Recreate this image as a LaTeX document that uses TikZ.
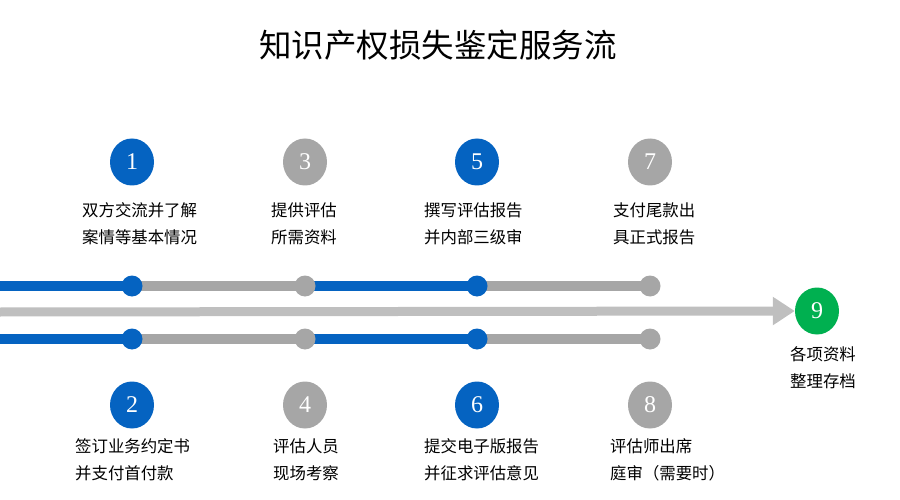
\documentclass[tikz,border=0pt]{standalone}
\usepackage{fontspec}
\setmainfont{Liberation Serif}
\newfontfamily\cjk{Noto Sans CJK SC}
\usetikzlibrary{shapes.geometric,arrows.meta}
\definecolor{flowblue}{RGB}{5,99,193}
\definecolor{flowgray}{RGB}{166,166,166}
\definecolor{flowlight}{RGB}{191,191,191}
\definecolor{flowgreen}{RGB}{0,176,80}

\begin{document}
\begin{tikzpicture}[%
      x=1pt,y=-1pt,
      num/.style={ellipse,minimum width=44pt,minimum height=47pt,inner sep=0pt,
        text=white,font=\fontsize{24}{24}\selectfont},
      lbl/.style={anchor=west,align=left,inner sep=0pt,
        font=\cjk\fontsize{16.4}{27}\selectfont},
      seg/.style={line width=10pt},
      ]
      \useasboundingbox (0,0) rectangle (900,500);
      \node [font=\cjk\fontsize{32.5}{32.5}\selectfont] (title) at (438,45) {知识产权损失鉴定服务流};

      \coordinate (ua) at (0,286);
      \coordinate (u1) at (132,286);
      \coordinate (u2) at (305,286);
      \coordinate (u3) at (477,286);
      \coordinate (u4) at (650,286);
      \coordinate (ma) at (0,312);
      \coordinate (la) at (0,339);
      \coordinate (l1) at (132,339);
      \coordinate (l2) at (305,339);
      \coordinate (l3) at (477,339);
      \coordinate (l4) at (650,339);

      \node [num,fill=flowblue] (c1) at (132,162) {1};
      \node [num,fill=flowgray] (c3) at (305,162) {3};
      \node [num,fill=flowblue] (c5) at (477,162) {5};
      \node [num,fill=flowgray] (c7) at (650,162) {7};
      \node [num,fill=flowblue] (c2) at (132,405) {2};
      \node [num,fill=flowgray] (c4) at (305,405) {4};
      \node [num,fill=flowblue] (c6) at (477,405) {6};
      \node [num,fill=flowgray] (c8) at (650,405) {8};
      \node [num,fill=flowgreen] (c9) at (817,311) {9};

      % upper track
      \draw [seg,flowblue] (ua) -- (u1);
      \draw [seg,flowgray] (u1) -- (u2);
      \draw [seg,flowblue] (u2) -- (u3);
      \draw [seg,flowgray] (u3) -- (u4);
      \fill [flowblue] (u1) circle (10.5pt);
      \fill [flowgray] (u2) circle (10.5pt);
      \fill [flowblue] (u3) circle (10.5pt);
      \fill [flowgray] (u4) circle (10.5pt);

      % lower track
      \draw [seg,flowblue] (la) -- (l1);
      \draw [seg,flowgray] (l1) -- (l2);
      \draw [seg,flowblue] (l2) -- (l3);
      \draw [seg,flowgray] (l3) -- (l4);
      \fill [flowblue] (l1) circle (10.5pt);
      \fill [flowgray] (l2) circle (10.5pt);
      \fill [flowblue] (l3) circle (10.5pt);
      \fill [flowgray] (l4) circle (10.5pt);

      \draw [flowlight,line width=9pt,-{Triangle[length=22pt,width=27pt]}] (ma) -- (c9.west);

      \node [lbl] (t1) at (82,223.5) {双方交流并了解\\案情等基本情况};
      \node [lbl] (t3) at (271,223.5) {提供评估\\所需资料};
      \node [lbl] (t5) at (424,223.5) {撰写评估报告\\并内部三级审};
      \node [lbl] (t7) at (613,223.5) {支付尾款出\\具正式报告};
      \node [lbl] (t2) at (75,459.5) {签订业务约定书\\并支付首付款};
      \node [lbl] (t4) at (273,459.5) {评估人员\\现场考察};
      \node [lbl] (t6) at (424,459.5) {提交电子版报告\\并征求评估意见};
      \node [lbl] (t8) at (610,459.5) {评估师出席\\庭审（需要时）};
      \node [lbl] (t9) at (790,367.5) {各项资料\\整理存档};
      \end{tikzpicture}
\end{document}
